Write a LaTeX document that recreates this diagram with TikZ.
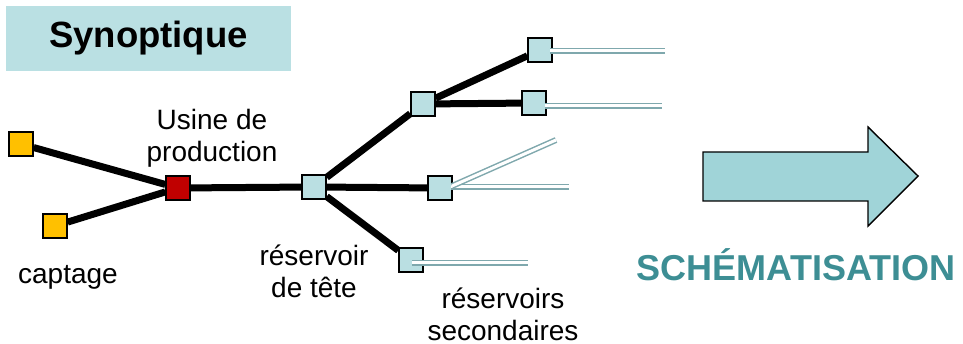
\documentclass[tikz,border=0pt]{standalone}
\usepackage{fontspec}
\setmainfont{Liberation Sans}
\usetikzlibrary{backgrounds}
\definecolor{boxC}{HTML}{BAE0E3}
\definecolor{resC}{HTML}{BADFE2}
\definecolor{capC}{HTML}{FFC000}
\definecolor{usineC}{HTML}{C00000}
\definecolor{pipeC}{HTML}{7FA8AD}
\definecolor{arrowC}{HTML}{A0D4D8}
\definecolor{schemC}{HTML}{3D8E94}
\tikzset{
  sq/.style={draw=black, line width=1.4pt, minimum size=24pt, inner sep=0pt},
  resbox/.style={sq, fill=resC},
  captbox/.style={sq, fill=capC},
  usinebox/.style={sq, fill=usineC},
  link/.style={line width=7pt, black},
  pipe/.style={draw=pipeC, line width=1.5pt, double=white, double distance=3pt},
  lbl/.style={font=\fontsize{28}{32}\selectfont, align=center, inner sep=0pt},
}
\begin{document}
\begin{tikzpicture}[x=1pt,y=-1pt]
\useasboundingbox (0,0) rectangle (963,344);
% title
\node[fill=boxC, minimum width=285pt, minimum height=65pt, inner sep=0pt,
      font=\fontsize{36.5}{40}\selectfont\bfseries] (title) at (148.5,38.5) {Synoptique};
% nodes
\node[captbox] (c1) at (21,144) {};
\node[captbox] (c2) at (55,226) {};
\node[usinebox] (u) at (178,188) {};
\node[resbox] (t) at (314,187) {};
\node[resbox] (r1) at (423,104) {};
\node[resbox] (r2) at (440,188) {};
\node[resbox] (r3) at (411,260) {};
\node[resbox] (s1) at (540,50) {};
\node[resbox] (s2) at (534,103) {};
\begin{pgfonlayer}{background}
\draw[link] (c1) -- (u);
\draw[link] (c2) -- (u);
\draw[link] (u) -- (t);
\draw[link] (t) -- (r1);
\draw[link] (t) -- (r2);
\draw[link] (t) -- (r3);
\draw[link] (r1) -- (s1);
\draw[link] (r1) -- (s2);
\end{pgfonlayer}
% pipes
\coordinate (p1) at (665,51);
\coordinate (p2) at (662,106);
\coordinate (p3) at (569,187);
\coordinate (p4) at (556,140);
\coordinate (p5) at (528,263);
\draw[pipe] ([xshift=10pt,yshift=-1pt]s1.center) -- (p1);
\draw[pipe] ([xshift=11pt,yshift=-3pt]s2.center) -- (p2);
\draw[pipe] ([xshift=11pt,yshift=1pt]r2.center) -- (p3);
\draw[pipe] ([xshift=12pt,yshift=2pt]r2.center) -- (p4);
\draw[pipe] ([xshift=1pt,yshift=-3pt]r3.center) -- (p5);
% labels
\node[lbl] (lu) at (212,138) {Usine de\\production};
\node[lbl] (lc) at (68,277) {captage};
\node[lbl] (lt) at (314,271) {réservoir\\de tête};
\node[lbl] (ls) at (503,314) {réservoirs\\secondaires};
% arrow
\draw[fill=arrowC, line width=1.4pt, line join=miter] (703,152) -- (868,152) -- (868,127) -- (918,176) -- (868,226) -- (868,201) -- (703,201) -- cycle;
\node[font=\fontsize{36}{40}\selectfont\bfseries, text=schemC, inner sep=0pt] (sch) at (796,265) {SCHÉMATISATION};
\end{tikzpicture}
\end{document}
